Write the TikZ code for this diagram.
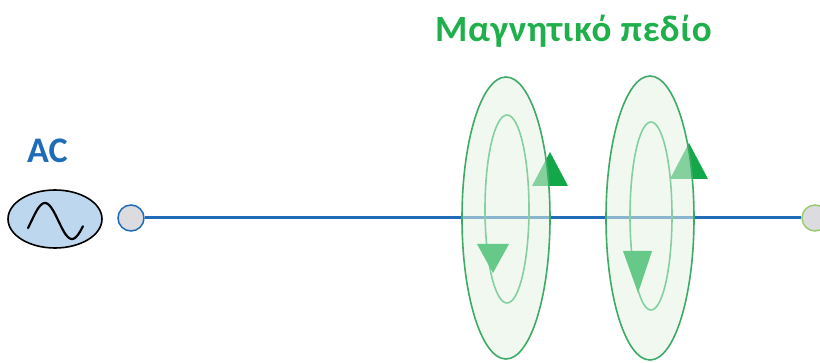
\documentclass[tikz,border=0pt]{standalone}
\usepackage{fontspec}
\setmainfont{Carlito}
\newfontfamily\spacedfont{Carlito}[LetterSpace=2]
\usetikzlibrary{shapes.geometric,positioning}

\definecolor{wireblue}{HTML}{1E6BB8}
\definecolor{srcfill}{HTML}{BDD7EE}
\definecolor{termgrey}{HTML}{DCDCE0}
\definecolor{termgreen}{HTML}{9BCB6C}
\definecolor{fieldgreen}{HTML}{1FAF4B}
\definecolor{ringline}{HTML}{3DAA66}
\definecolor{ringfill}{HTML}{E3F3E3}
\definecolor{loopline}{HTML}{86CFA0}
\definecolor{uparrow}{HTML}{12A84A}
\definecolor{downarrow}{HTML}{66C98A}

\tikzset{
  terminal/.style={circle, minimum size=26pt, inner sep=0pt, fill=termgrey, line width=1.5pt},
  ring/.style={draw=ringline, line width=1.6pt, fill=ringfill, fill opacity=0.55},
  fieldloop/.style={draw=loopline, line width=1.6pt},
}

\begin{document}
\begin{tikzpicture}[x=1pt,y=-1pt]
\useasboundingbox (0,0) rectangle (820,363);

% source and its label
\node (src) [ellipse, draw=black, line width=1.6pt, fill=srcfill, minimum width=94pt, minimum height=58pt] at (55,219) {};
\draw[line width=2.2pt, line cap=round] plot[domain=-23:343, samples=60, smooth] ({28+(\x+23)/360*54}, {221-18*sin(\x)});
\node (ac) [anchor=base west, inner sep=0pt, text=wireblue, font=\bfseries\fontsize{36}{36}\selectfont] at (27,163) {AC};

% wire between the two terminals
\node (tleft) [terminal, draw=wireblue] at (131,218) {};
\node (tright) [terminal, draw=termgreen] at (815,218) {};
\draw[wireblue, line width=3pt] (tleft) -- (tright);

% arrow heads on the field loops (drawn under the rings)
\fill[uparrow] (532,186) -- (550,152) -- (568,186) -- cycle;
\fill[uparrow] (670,179) -- (689,143) -- (708,179) -- cycle;

% the two field rings
\draw[ring] (506,218) ellipse (44pt and 141pt);
\draw[ring] (650,218) ellipse (44pt and 142pt);
\draw[fieldloop] (507,209) ellipse (22pt and 94pt);
\draw[fieldloop] (651,216) ellipse (21pt and 94pt);

\fill[downarrow] (477,244) -- (493,273) -- (509,244) -- cycle;
\fill[downarrow] (623,251) -- (638,293) -- (652,251) -- cycle;

\node (field) [anchor=base west, inner sep=0pt, text=fieldgreen, font=\spacedfont\bfseries\fontsize{37}{37}\selectfont] at (435,42) {Μαγνητικό πεδίο};
\end{tikzpicture}
\end{document}
